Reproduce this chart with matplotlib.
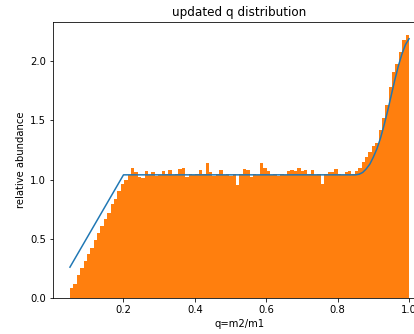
import numpy as np
import matplotlib
matplotlib.use('Agg')
import matplotlib.pyplot as plt

# histogram: 100 bins between q=0.05 and q=1.0
bin_lo = 0.05
bin_hi = 1.0
n_bins = 100

heights = [
    # rising part 0.05 - 0.2
    0.08, 0.12, 0.19, 0.25, 0.31, 0.37, 0.42, 0.49, 0.55, 0.61,
    0.67, 0.72, 0.79, 0.84, 0.90, 0.96,
    # plateau
    1.00, 1.04, 1.10, 1.06, 1.02, 1.01, 1.07, 1.04, 1.06, 1.03,
    1.04, 1.07, 1.05, 1.08, 1.04, 1.05, 1.09, 1.10, 1.02, 1.05,
    1.04, 1.05, 1.08, 1.05, 1.14, 1.06, 1.03, 1.05, 1.08, 1.04,
    1.05, 1.03, 1.05, 0.95, 1.05, 1.09, 1.08, 1.02, 1.05, 1.04,
    1.14, 1.10, 1.07, 1.04, 1.05, 1.03, 1.05, 1.04, 1.07, 1.08,
    1.07, 1.10, 1.07, 1.08, 1.05, 1.08, 1.04, 1.05, 0.96, 1.05,
    1.06, 1.06, 1.09, 1.05,
    # twin excess near q=1
    1.04, 1.06, 1.07, 1.05, 1.07, 1.10, 1.15, 1.19, 1.23, 1.28,
    1.31, 1.42, 1.52, 1.63, 1.78, 1.91, 1.98, 2.08, 2.18, 2.22,
]

# model curve
q_model = [0.05, 0.20, 0.85, 0.86, 0.87, 0.88, 0.89, 0.90, 0.91, 0.92,
           0.93, 0.94, 0.95, 0.96, 0.97, 0.98, 0.99, 1.0]
f_model = [0.26, 1.04, 1.04, 1.045, 1.06, 1.09, 1.13, 1.19, 1.26, 1.35,
           1.46, 1.58, 1.71, 1.84, 1.96, 2.06, 2.14, 2.19]

edges = np.linspace(bin_lo, bin_hi, n_bins + 1)
centers = 0.5 * (edges[:-1] + edges[1:])

fig = plt.figure(figsize=(414 / 72, 334 / 72), dpi=72, facecolor='white')
ax = fig.add_axes([0.128, 0.108, 0.901, 0.826])

ax.hist(centers, bins=edges, weights=heights, color='C1')
ax.plot(q_model, f_model, color='C0')

ax.set_title('updated q distribution')
ax.set_xlabel('q=m2/m1')
ax.set_ylabel('relative abundance')

fig.savefig('out.png', dpi=72)
